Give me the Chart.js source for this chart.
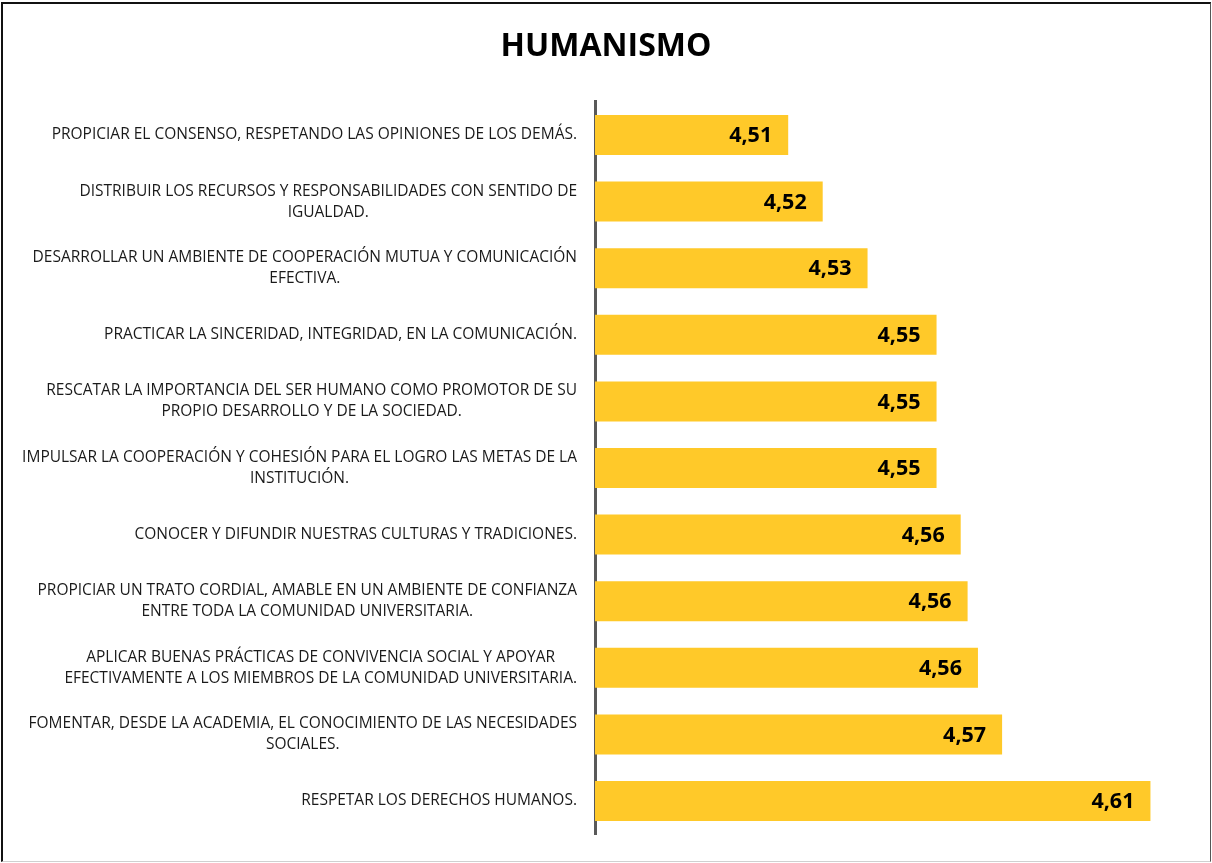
<!DOCTYPE html>
<html>
<head>
<meta charset="utf-8">
<script src="https://cdn.jsdelivr.net/npm/chart.js@4.4.1/dist/chart.umd.min.js"></script>
<style>
  html, body { margin: 0; padding: 0; background: #ffffff; }
  #wrap { position: relative; width: 1212px; height: 863px; overflow: hidden; }
  #c { position: absolute; left: 0; top: 0; }
  #frame { position: absolute; left: 1px; top: 2px; width: 1207px; height: 857px;
           border-left: 2px solid #111; border-top: 2px solid #111;
           border-right: 1px solid #555; border-bottom: 1px solid #d0d0d0; pointer-events: none; }
</style>
</head>
<body>
<div id="wrap">
  <canvas id="c" width="1212" height="863"></canvas>
  <div id="frame"></div>
</div>
<script>
const chartTitle = "HUMANISMO";

const categories = [
  "PROPICIAR EL CONSENSO, RESPETANDO LAS OPINIONES DE LOS DEMÁS.",
  ["DISTRIBUIR LOS RECURSOS Y RESPONSABILIDADES CON SENTIDO DE", "IGUALDAD."],
  ["DESARROLLAR UN AMBIENTE DE COOPERACIÓN MUTUA Y COMUNICACIÓN", "EFECTIVA."],
  "PRACTICAR LA SINCERIDAD, INTEGRIDAD, EN LA COMUNICACIÓN.",
  ["RESCATAR LA IMPORTANCIA DEL SER HUMANO COMO PROMOTOR DE SU", "PROPIO DESARROLLO Y DE LA SOCIEDAD."],
  ["IMPULSAR LA COOPERACIÓN Y COHESIÓN PARA EL LOGRO LAS METAS DE LA", "INSTITUCIÓN."],
  "CONOCER Y DIFUNDIR NUESTRAS CULTURAS Y TRADICIONES.",
  ["PROPICIAR UN TRATO CORDIAL, AMABLE EN UN AMBIENTE DE CONFIANZA", "ENTRE TODA LA COMUNIDAD UNIVERSITARIA."],
  ["APLICAR BUENAS PRÁCTICAS DE CONVIVENCIA SOCIAL Y APOYAR", "EFECTIVAMENTE A LOS MIEMBROS DE LA COMUNIDAD UNIVERSITARIA."],
  ["FOMENTAR, DESDE LA ACADEMIA, EL CONOCIMIENTO DE LAS NECESIDADES", "SOCIALES."],
  "RESPETAR LOS DERECHOS HUMANOS."
];

const values = [4.506, 4.516, 4.529, 4.549, 4.549, 4.549, 4.556, 4.558, 4.561, 4.568, 4.611];

const axisMin = 4.45;
const axisMax = 4.62;

const BAR_COLOR = "#FFC929";
const AXIS_COLOR = "#595959";
const LABEL_FONT = "15.5px 'Open Sans'";
const VALUE_FONT = "bold 21.5px 'Open Sans'";

function fmt(v) { return v.toFixed(2).replace(".", ","); }

const categoryLabelsPlugin = {
  id: "categoryLabels",
  afterDraw(chart) {
    const ctx = chart.ctx;
    const yScale = chart.scales.y;
    const right = chart.chartArea.left - 18;
    const lineH = 21;
    ctx.save();
    ctx.font = LABEL_FONT;
    ctx.fillStyle = "#1a1a1a";
    ctx.textAlign = "center";
    ctx.textBaseline = "middle";
    chart.data.labels.forEach((lab, i) => {
      const lines = Array.isArray(lab) ? lab : [lab];
      const w = Math.max(...lines.map(l => ctx.measureText(l).width));
      const cx = right - w / 2;
      const cy = yScale.getPixelForValue(i);
      lines.forEach((l, j) => {
        ctx.fillText(l, cx, cy + (j - (lines.length - 1) / 2) * lineH);
      });
    });
    ctx.restore();
  }
};

const valueLabelsPlugin = {
  id: "valueLabels",
  afterDatasetsDraw(chart) {
    const ctx = chart.ctx;
    const meta = chart.getDatasetMeta(0);
    ctx.save();
    ctx.font = VALUE_FONT;
    ctx.fillStyle = "#000000";
    ctx.textAlign = "right";
    ctx.textBaseline = "middle";
    meta.data.forEach((el, i) => {
      ctx.fillText(fmt(chart.data.datasets[0].data[i]), el.x - 16, el.y + 1);
    });
    ctx.restore();
  }
};

new Chart(document.getElementById("c"), {
  type: "bar",
  data: {
    labels: categories,
    datasets: [{
      data: values,
      backgroundColor: BAR_COLOR,
      borderWidth: 0,
      barPercentage: 0.6,
      categoryPercentage: 1.0
    }]
  },
  options: {
    indexAxis: "y",
    responsive: false,
    animation: false,
    layout: { padding: { top: 0, right: 30.5, bottom: 28.7, left: 30.5 } },
    plugins: {
      legend: { display: false },
      tooltip: { enabled: false },
      title: {
        display: true,
        text: chartTitle,
        color: "#000000",
        font: { family: "'Open Sans'", size: 32, weight: "bold", lineHeight: 1.2 },
        padding: { top: 28, bottom: 35.3 }
      }
    },
    scales: {
      x: { display: false, min: axisMin, max: axisMax },
      y: {
        display: true,
        grid: { display: false },
        border: { display: true, color: AXIS_COLOR, width: 3 },
        ticks: { display: false },
        afterFit(scale) { scale.width = 564.5; }
      }
    }
  },
  plugins: [categoryLabelsPlugin, valueLabelsPlugin]
});
</script>
</body>
</html>
